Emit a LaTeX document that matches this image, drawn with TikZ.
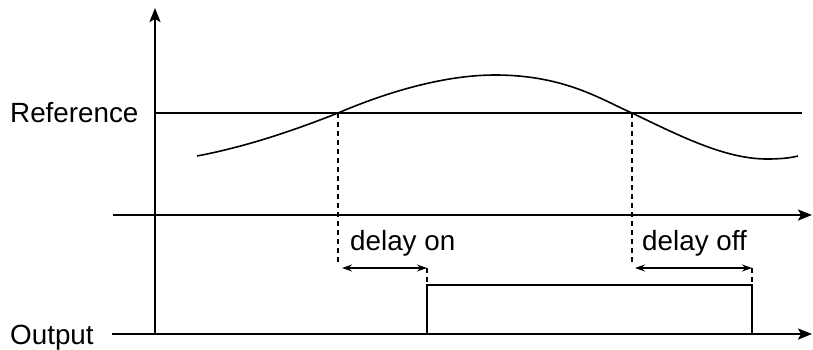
\documentclass[tikz,border=0pt]{standalone}
\usepackage{fontspec}
\setmainfont{Liberation Sans}
\usetikzlibrary{arrows.meta}
\begin{document}
\begin{tikzpicture}[x=1pt,y=-1pt,
  axis/.style={line width=2.3pt,-{Stealth[length=14pt,width=11pt,inset=3pt]}},
  thin line/.style={line width=1.6pt},
  dash line/.style={line width=1.5pt,dash pattern=on 5pt off 4pt},
  delay arrow/.style={line width=1.5pt,{Stealth[length=10pt,width=7pt]}-{Stealth[length=10pt,width=7pt]}},
  lbl/.style={font=\fontsize{27.8}{30}\selectfont,inner sep=0pt}]
\useasboundingbox (0,0) rectangle (813,349);
% coordinates
\coordinate (yb) at (155,334);
\coordinate (yt) at (155,8);
\coordinate (ml) at (113,215);
\coordinate (mr) at (812,215);
\coordinate (ol) at (112,334);
\coordinate (or) at (812,334);
\coordinate (rl) at (155,113);
\coordinate (rr) at (802,113);
\coordinate (c1) at (338,113);
\coordinate (c2) at (632,113);
\coordinate (d1) at (338,262);
\coordinate (d2) at (632,262);
\coordinate (a1) at (342,268);
\coordinate (b1) at (427,268);
\coordinate (a2) at (635,268);
\coordinate (b2) at (752,268);
\coordinate (p1) at (427,334);
\coordinate (p2) at (427,285);
\coordinate (p3) at (752,285);
\coordinate (p4) at (752,334);
% labels
\node[lbl,anchor=base west] (ref) at (10,122) {Reference};
\node[lbl,anchor=base west] (out) at (10,344) {Output};
\node[lbl,anchor=base west] (don) at (350,250) {delay on};
\node[lbl,anchor=base west] (doff) at (642,250) {delay off};
% axes
\draw[axis] (yb) -- (yt);
\draw[axis] (ml) -- (mr);
\draw[axis] (ol) -- (or);
% reference line
\draw[thin line] (rl) -- (rr);
% curve
\draw[thin line] (197,156) .. controls (250,146) and (300,128) .. (c1)
  .. controls (380,95) and (440,75) .. (495,75)
  .. controls (565,75) and (602,100) .. (c2)
  .. controls (680,136) and (725,159) .. (767,159)
  .. controls (780,159) and (790,158) .. (798,156);
% dashed drops
\draw[dash line] (c1) -- (d1);
\draw[dash line] (c2) -- (d2);
\draw[dash line] (b1) -- (p2);
\draw[dash line] (b2) -- (p3);
% delay arrows
\draw[delay arrow] (a1) -- (b1);
\draw[delay arrow] (a2) -- (b2);
% output pulse
\draw[thin line] (p1) -- (p2) -- (p3) -- (p4);
\end{tikzpicture}
\end{document}
